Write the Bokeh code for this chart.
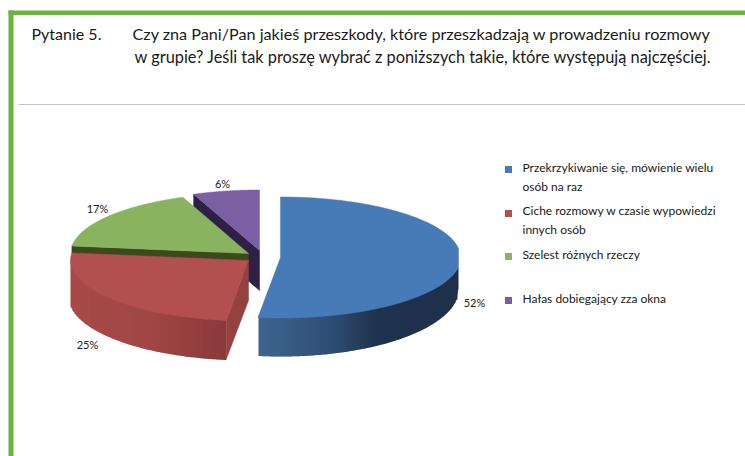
import numpy as np
from bokeh.plotting import figure
from bokeh.models import Range1d
from bokeh.core.properties import value
from bokeh.embed import file_html
from bokeh.resources import INLINE

question_no = "Pytanie 5."
title_lines = ["Czy zna Pani/Pan jakieś przeszkody, które przeszkadzają w prowadzeniu rozmowy",
               "w grupie? Jeśli tak proszę wybrać z poniższych takie, które występują najczęściej."]
categories = ["Przekrzykiwanie się, mówienie wielu\nosób na raz",
              "Ciche rozmowy w czasie wypowiedzi\ninnych osób",
              "Szelest różnych rzeczy",
              "Hałas dobiegający zza okna"]
shares = [52, 25, 17, 6]
top_colors = ["#477bb8", "#b24f4f", "#8ab360", "#7b5fa3"]

FONT = "Lato"
p = figure(width=745, height=456, output_backend="svg", toolbar_location=None,
           x_range=Range1d(0, 745), y_range=Range1d(456, 0), min_border=0,
           background_fill_color="white", border_fill_color="white", outline_line_color=None)
p.xaxis.visible = False
p.yaxis.visible = False
p.xgrid.visible = False
p.ygrid.visible = False

# frame
p.quad(left=[8, 8], right=[745, 13], top=[10, 10], bottom=[14.5, 456], color="#6ab43e", line_color=None)
p.line([18, 745], [104, 104], line_color="#c4c4c4", line_width=1)

# pie geometry
fractions = np.array(shares) / sum(shares)
edges = np.concatenate([[0], np.cumsum(fractions)]) * 2 * np.pi
RY = 60.5


def arc(i, cx, cy, rx, ry=RY, n=120):
    t = np.linspace(edges[i], edges[i + 1], n)
    return cx + rx * np.sin(t), cy - ry * np.cos(t)


def top(i, cx, cy, rx, clip=None):
    x, y = arc(i, cx, cy, rx)
    if clip is not None:
        x = np.minimum(x, clip)
    p.patch(np.r_[cx, x], np.r_[cy, y], fill_color=top_colors[i], line_color=top_colors[i], line_width=0.5)


def lerp(stops, x):
    xs = [s[0] for s in stops]
    out = [np.interp(x, xs, [int(s[1][k:k + 2], 16) for s in stops]) for k in (1, 3, 5)]
    return "#%02x%02x%02x" % tuple(int(v) for v in out)


def side(x0, x1, cx, cy, rx, ry, bcx, bcy, brx, bry, stops, cap=0.8):
    # vertical strips, each overlapping the next one so that no seams show
    grid = np.arange(x0, x1, 2.0)
    xs, ys, cols = [], [], []
    for a in grid:
        b = min(a + 2.0, x1)
        n = np.linspace(a, b, 3)
        yt = cy + cap * ry * np.sqrt(np.clip(1 - ((n - cx) / rx) ** 2, 0, 1))
        yb = bcy + bry * np.sqrt(np.clip(1 - ((n - bcx) / brx) ** 2, 0, 1))
        # later strips lie over this one; the last one ends exactly at x1
        e = min(a + 3.0, x1)
        xs.append([a, e, e, a])
        ys.append([yt[0], yt[-1], yb[-1], yb[0]])
        cols.append(lerp(stops, (a + b) / 2))
    p.patches(xs, ys, fill_color=cols, line_color=None)


# blue
side(258, 458, 280, 257, 180, RY, 280, 288, 178, 68,
     [(258, "#3f6690"), (330, "#2f4e75"), (375, "#20334f"), (458, "#1f304b")], cap=0.97)
top(0, 280, 257, 180, clip=458)

# purple
a, b = edges[3], edges[4]
px, py, prx = 259, 250, 179
tipx, tipy = px + prx * np.sin(a), py - RY * np.cos(a)
p.patch([tipx, px, px, tipx], [tipy, py, py + 40, tipy + 40], fill_color="#2f2145", line_color="#2f2145", line_width=0.5)
top(3, px, py, prx)

# green
gx, gy, grx = 248, 253, 178
a = edges[2]
lx, ly = gx + grx * np.sin(a), gy - RY * np.cos(a)
p.patch([lx, gx, gx, lx], [ly, gy, gy + 8, ly + 8], fill_color="#3b4a1c", line_color="#3b4a1c", line_width=0.5)
top(2, gx, gy, grx)

# red
rx0, ry0, rrx = 248, 260, 178
a = edges[1]
ex, ey = rx0 + rrx * np.sin(a), ry0 - RY * np.cos(a)
side(70, ex, rx0, ry0, rrx, RY, 248, 297, 180, 63,
     [(70, "#a74b49"), (150, "#a04745"), (226, "#8a3a3c")])
p.patch([rx0, ex, ex, rx0], [ry0, ey, ey + 39, ry0 + 40], fill_color="#94413f", line_color="#94413f", line_width=0.5)
top(1, rx0, ry0, rrx)

# texts
p.text([31], [33], text=[question_no], text_font=value(FONT), text_font_size="16px",
       text_color="#1a1a1a", text_baseline="middle")
p.text([132], [33], text=[title_lines[0]], text_font=value(FONT), text_font_size="16.2px",
       text_color="#1a1a1a", text_baseline="middle")
p.text([134], [56], text=[title_lines[1]], text_font=value(FONT), text_font_size="16.35px",
       text_color="#1a1a1a", text_baseline="middle")

labels = [f"{s}%" for s in shares]
lab_x = [474, 87, 97, 222]
lab_y = [302, 344, 208, 183]
p.text(lab_x, lab_y, text=labels, text_font=value(FONT), text_font_size="11px", text_color="#202020",
       text_align="center", text_baseline="middle")

# legend
leg_y = [169, 213, 256, 300]
p.scatter([508] * 4, leg_y, marker="square", size=7, color=top_colors, line_color=None)
lx_, ly_, lt = [], [], []
first_y = [167, 210, 254, 298]
for c, y in zip(categories, first_y):
    for j, part in enumerate(c.split("\n")):
        lx_.append(522); ly_.append(y + j * 19); lt.append(part)
p.text(lx_, ly_, text=lt, text_font=value(FONT), text_font_size="12px", text_color="#202020",
       text_baseline="middle")

open("out.html", "w").write(file_html(p, INLINE))
